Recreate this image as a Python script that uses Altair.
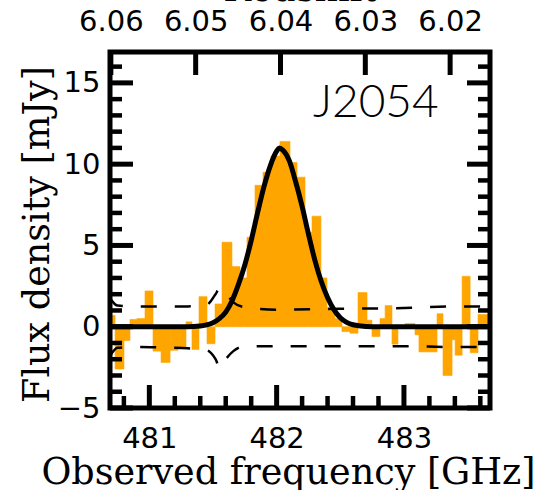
import altair as alt
import pandas as pd

# ---------------- data ----------------
# spectrum channels: edges (GHz) and flux density (mJy)
chan_edges = [480.691, 480.731, 480.801, 480.848, 480.903, 480.966, 481.029, 481.092,
              481.163, 481.225, 481.288, 481.335, 481.390, 481.453, 481.516, 481.571,
              481.649, 481.712, 481.767, 481.830, 481.893, 481.956, 482.026, 482.105,
              482.160, 482.223, 482.278, 482.348, 482.395, 482.458, 482.513, 482.576,
              482.639, 482.710, 482.749, 482.812, 482.852, 482.906, 482.953, 483.008,
              483.087, 483.118, 483.181, 483.260, 483.307, 483.378, 483.402, 483.457,
              483.520, 483.582, 483.676]
chan_flux = [0.7, -2.6, -0.85, 0.45, 0.5, 2.2, -1.5, -2.2, -1.45, -1.25,
             0.3, -1.4, 1.85, -1.05, 1.4, 5.2, 3.7, 3.0, 5.5, 8.7,
             9.5, 10.5, 11.4, 10.1, 9.2, 5.8, 6.8, 3.0, 1.2, 0.5,
             -0.3, -0.4, 2.1, 0.4, -0.6, 0.5, 1.3, -1.07, 0.05, 0.2,
             -0.5, -1.55, -1.55, 0.8, -3.0, -0.8, -1.75, 3.1, -1.6, 0.75]

# Gaussian fit curve
fit_freq = [480.691, 481.30, 481.40, 481.50, 481.55, 481.60, 481.65, 481.70, 481.75,
            481.80, 481.85, 481.90, 481.95, 482.00, 482.02, 482.05, 482.10, 482.15,
            482.20, 482.25, 482.30, 482.35, 482.40, 482.45, 482.50, 482.55, 482.60,
            482.70, 482.80, 483.676]
fit_flux = [0.0, 0.0, 0.05, 0.25, 0.5, 0.9, 1.6, 2.6, 3.8,
            5.3, 7.0, 8.6, 9.9, 10.8, 11.0, 10.85, 10.2, 8.9,
            7.4, 5.7, 4.1, 2.8, 1.8, 1.05, 0.55, 0.27, 0.12,
            0.02, 0.0, 0.0]

# +/- 1 sigma noise (dashed)
noise_freq = [480.691, 480.75, 480.90, 481.10, 481.30, 481.45, 481.52, 481.555,
              481.60, 481.66, 481.75, 482.00, 482.50, 483.00, 483.40, 483.676]
noise_hi = [1.75, 1.3, 1.25, 1.25, 1.25, 1.35, 2.0, 2.4,
            2.1, 1.5, 1.2, 1.05, 1.1, 1.15, 1.25, 1.25]
noise_lo = [-1.8, -1.3, -1.25, -1.28, -1.33, -1.45, -2.0, -2.55,
            -2.0, -1.5, -1.2, -1.2, -1.2, -1.2, -1.25, -1.25]

x_major = [481, 482, 483]
x_minor = [480.8, 481.2, 481.4, 481.6, 481.8, 482.2, 482.4, 482.6, 482.8, 483.2, 483.4, 483.6]
y_major = [-5, 0, 5, 10, 15]
y_minor = [-4, -3, -2, -1, 1, 2, 3, 4, 6, 7, 8, 9, 11, 12, 13, 14, 16]
z_major = [6.06, 6.05, 6.04, 6.03, 6.02]

label_text = ["J2054"]
label_freq = [482.285]
label_flux = [12.9]

# ---------------- layout ----------------
W, H = 380, 356
XDOM = [480.691, 483.676]
YDOM = [-5, 16.9]
ZDOM = [6.0601, 6.0153]
ORANGE = "#FFA500"

xs = alt.Scale(domain=XDOM, nice=False, zero=False)
ys = alt.Scale(domain=YDOM, nice=False, zero=False)

bars_df = pd.DataFrame({"lo": chan_edges[:-1], "hi": chan_edges[1:],
                        "flux": chan_flux, "zero": [0.0] * len(chan_flux)})
fit_df = pd.DataFrame({"freq": fit_freq, "flux": fit_flux})
hi_df = pd.DataFrame({"freq": noise_freq, "flux": noise_hi})
lo_df = pd.DataFrame({"freq": noise_freq, "flux": noise_lo})
lab_df = pd.DataFrame({"t": label_text, "freq": label_freq, "flux": label_flux})

x_axis = alt.Axis(values=x_major, format="d", title="Observed frequency [GHz]",
                  labelPadding=39, labelBaseline="alphabetic",
                  titleX=W / 2 - 12, titleY=75, titleBaseline="alphabetic", titleAlign="center")
y_axis = alt.Axis(values=y_major, format="d", title="Flux density [mJy]",
                  labelPadding=10, labelAlign="right", labelBaseline="middle",
                  titleX=-62, titleY=H / 2 + 4, titleAngle=270,
                  titleBaseline="alphabetic", titleAlign="center")


def X(field):
    return alt.X(field, scale=xs, axis=x_axis)


def Y(field):
    return alt.Y(field, scale=ys, axis=y_axis)


bars = alt.Chart(bars_df).mark_rect(color=ORANGE, stroke=ORANGE, strokeWidth=0.6, clip=True).encode(
    x=X("lo:Q"), x2="hi:Q", y=Y("flux:Q"), y2="zero:Q")

dash_kw = dict(color="black", strokeWidth=2.5, strokeDash=[16, 18], interpolate="monotone", clip=True)
noise_hi_l = alt.Chart(hi_df).mark_line(**dash_kw).encode(x=X("freq:Q"), y=Y("flux:Q"))
noise_lo_l = alt.Chart(lo_df).mark_line(**dash_kw).encode(x=X("freq:Q"), y=Y("flux:Q"))

fit = alt.Chart(fit_df).mark_line(color="black", strokeWidth=5, interpolate="monotone", clip=True).encode(
    x=X("freq:Q"), y=Y("flux:Q"))

label = alt.Chart(lab_df).mark_text(align="left", baseline="alphabetic", font="Lato",
                                    fontSize=46, fontWeight=300, color="black").encode(
    x=X("freq:Q"), y=Y("flux:Q"), text="t:N")


# inward ticks
def xticks(vals, length, sw):
    df = pd.DataFrame({"v": vals})
    return alt.Chart(df).mark_rule(color="black", strokeWidth=sw).encode(
        x=X("v:Q"), y=alt.value(H), y2=alt.value(H - length))


def yticks(vals, length, sw, right=False):
    df = pd.DataFrame({"v": vals})
    x0 = W if right else 0
    x1 = W - length if right else length
    return alt.Chart(df).mark_rule(color="black", strokeWidth=sw).encode(
        y=Y("v:Q"), x=alt.value(x0), x2=alt.value(x1))


frame = alt.Chart(alt.Data(values=[{}])).mark_rect(filled=False, stroke="black", strokeWidth=5).encode(
    x=alt.value(0), x2=alt.value(W), y=alt.value(0), y2=alt.value(H))

main = alt.layer(
    bars, noise_hi_l, noise_lo_l, fit, label,
    xticks(x_major, 23, 5), xticks(x_minor, 12, 4.5),
    yticks(y_major, 23, 5), yticks(y_minor, 12, 4.5),
    yticks(y_major, 23, 5, right=True), yticks(y_minor, 12, 4.5, right=True),
    frame,
)

z_df = pd.DataFrame({"z": z_major})
top = alt.Chart(z_df).mark_rule(color="black", strokeWidth=5).encode(
    x=alt.X("z:Q", scale=alt.Scale(domain=ZDOM, nice=False, zero=False),
            axis=alt.Axis(orient="top", values=z_major, format=".2f", title="Redshift",
                          labelPadding=22, labelBaseline="alphabetic",
                          titleX=W / 2, titleY=-52, titleBaseline="alphabetic", titleAlign="center")),
    y=alt.value(0), y2=alt.value(23),
)

chart = alt.layer(main, top).resolve_scale(x="independent").properties(
    width=W, height=H,
    autosize=alt.AutoSizeParams(type="none"),
    padding={"left": 110, "top": 52, "right": 54, "bottom": 82},
).configure_view(stroke=None).configure_axis(
    grid=False, domain=False, ticks=False, labelFlush=False, labelOverlap=False,
    labelFont="DejaVu Sans", labelFontSize=29, labelColor="black",
    titleFont="DejaVu Serif", titleFontSize=36.5, titleFontWeight="normal", titleColor="black",
)

chart.save("out.html", embed_options={"renderer": "svg", "actions": False})
